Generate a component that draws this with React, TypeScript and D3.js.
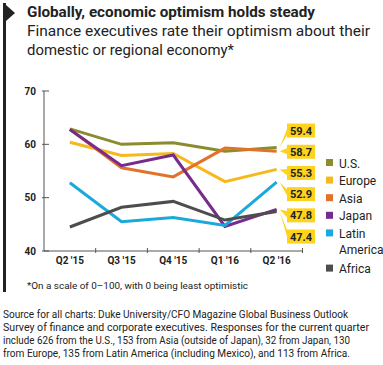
import React from 'react';
import * as d3 from 'd3';

const quarters = ["Q2 '15", "Q3 '15", "Q4 '15", "Q1 '16", "Q2 '16"];
const seriesNames = ['U.S.', 'Europe', 'Asia', 'Japan', 'Latin America', 'Africa'];
const seriesColors = ['#8b8c2f', '#f6b81c', '#e2722a', '#772b8c', '#19a9dd', '#4d4d4d'];
const usValues = [62.9, 60.0, 60.3, 58.7, 59.4];
const europeValues = [60.4, 57.9, 58.3, 53.0, 55.3];
const asiaValues = [62.8, 55.6, 53.9, 59.3, 58.7];
const japanValues = [62.8, 56.0, 58.0, 44.6, 47.8];
const latinValues = [52.8, 45.5, 46.3, 44.8, 52.9];
const africaValues = [44.5, 48.2, 49.3, 45.8, 47.4];
const yTicks = [40, 50, 60, 70];

const allValues = [usValues, europeValues, asiaValues, japanValues, latinValues, africaValues];

const x = d3.scalePoint<string>().domain(quarters).range([44, 302.5]).padding(0.5);
const y = d3.scaleLinear().domain([40, 70]).range([251, 91]);

// stack the end labels so they don't overlap (cluster-and-centre, nudged down a bit)
function placeLabels(targets: number[], gap: number, bias: number): number[] {
  const order = targets.map((t, i) => i).sort((a, b) => targets[a] - targets[b]);
  let groups: { idx: number[]; top: number }[] = [];
  order.forEach(i => {
    groups.push({ idx: [i], top: targets[i] + bias });
    while (groups.length > 1) {
      const g = groups[groups.length - 1];
      const p = groups[groups.length - 2];
      if (p.top + p.idx.length * gap > g.top) {
        const idx = p.idx.concat(g.idx);
        const mean = (d3.mean(idx, k => targets[k]) as number) + bias;
        groups.splice(groups.length - 2, 2, { idx, top: mean - ((idx.length - 1) * gap) / 2 });
      } else break;
    }
  });
  const out: number[] = [];
  groups.forEach(g => g.idx.forEach((k, j) => { out[k] = g.top + j * gap; }));
  return out;
}

const App = () => {
  const line = d3.line<number>()
    .x((d, i) => x(quarters[i]) as number)
    .y(d => y(d));
  const step = x.step();
  const last = quarters[quarters.length - 1];
  const endX = x(last) as number;
  const ends = allValues.map(v => y(v[v.length - 1]));
  const labelY = placeLabels(ends, 21.2, 5);
  const boxX = 287, boxW = 28, boxH = 14;

  const sans = 'Roboto, "Noto Sans", sans-serif';
  const legendRows: { name: string; lines: string[] }[] = seriesNames.map(n =>
    n === 'Latin America' ? { name: n, lines: ['Latin', 'America'] } : { name: n, lines: [n] });
  let ly = 163;

  return (
    <svg width={383} height={365} style={{ position: 'absolute', left: 0, top: 0, background: '#fff' }}
      fontFamily={sans}>
      {/* flag marker */}
      <rect x={3} y={3} width={3} height={289} fill="#222" />
      <path d="M6,5 L15,13 L6,21 Z" fill="#222" />

      <text x={27} y={17} fontSize={15.5} fontWeight={700} fill="#222" textLength={288} lengthAdjust="spacingAndGlyphs">
        Globally, economic optimism holds steady
      </text>
      <text x={27} y={36} fontSize={15} fill="#222" textLength={343} lengthAdjust="spacingAndGlyphs">
        Finance executives rate their optimism about their
      </text>
      <text x={27} y={55} fontSize={15} fill="#222" textLength={207} lengthAdjust="spacingAndGlyphs">
        domestic or regional economy*
      </text>

      {/* y axis */}
      <line x1={44} x2={44} y1={y(70)} y2={y(40)} stroke="#555" strokeWidth={1} />
      {yTicks.map(t => (
        <g key={t}>
          <line x1={42} x2={49} y1={y(t)} y2={y(t)} stroke="#555" />
          <text x={36} y={y(t) + 3.5} textAnchor="end" fontSize={10} fontWeight={700} fill="#222">{t}</text>
        </g>
      ))}
      {/* x axis */}
      <line x1={44} x2={302.5} y1={y(40)} y2={y(40)} stroke="#555" />
      {quarters.map((q, i) => (
        <g key={q}>
          <line x1={44 + (i + 1) * step} x2={44 + (i + 1) * step} y1={y(40) - 3} y2={y(40) + 2} stroke="#555" />
          <text x={x(q)} y={264} textAnchor="middle" fontSize={10} fontWeight={700} fill="#222">{q}</text>
        </g>
      ))}

      {/* lines */}
      {allValues.map((v, i) => (
        <path key={seriesNames[i]} d={line(v) as string} fill="none" stroke={seriesColors[i]}
          strokeWidth={3} strokeLinejoin="miter" />
      ))}

      {/* end labels */}
      {allValues.map((v, i) => {
        const cy = labelY[i];
        const tipX = endX + 3;
        return (
          <g key={'lab' + i}>
            <path d={`M${tipX},${ends[i]} L${boxX + 1},${cy - 4} L${boxX + 1},${cy + 3} Z`} fill="#fdd31d" />
            <rect x={boxX} y={cy - boxH / 2} width={boxW} height={boxH} fill="#fdd31d" />
            <text x={boxX + boxW / 2} y={cy + 4} textAnchor="middle" fontSize={11} fontWeight={700} fill="#222">
              {v[v.length - 1].toFixed(1)}
            </text>
          </g>
        );
      })}

      {/* legend */}
      {legendRows.map((r, i) => {
        const yy = ly;
        ly += 17.6 * r.lines.length;
        return (
          <g key={r.name}>
            <rect x={326} y={yy - 4} width={7} height={7} fill={seriesColors[i]} />
            {r.lines.map((t, j) => (
              <text key={t} x={339} y={yy + 4.5 + j * 16} fontSize={12} fill="#222">{t}</text>
            ))}
          </g>
        );
      })}

      <text x={27} y={289} fontSize={9.5} fill="#222" textLength={221} lengthAdjust="spacingAndGlyphs">
        *On a scale of 0–100, with 0 being least optimistic
      </text>
      {[
        'Source for all charts: Duke University/CFO Magazine Global Business Outlook',
        'Survey of finance and corporate executives. Responses for the current quarter',
        'include 626 from the U.S., 153 from Asia (outside of Japan), 32 from Japan, 130',
        'from Europe, 135 from Latin America (including Mexico), and 113 from Africa.',
      ].map((t, i) => (
        <text key={i} x={3} y={317.5 + i * 13} fontSize={10} fill="#222"
          textLength={[345, 366, 347, 347][i]} lengthAdjust="spacingAndGlyphs">{t}</text>
      ))}
    </svg>
  );
};

export default App;
